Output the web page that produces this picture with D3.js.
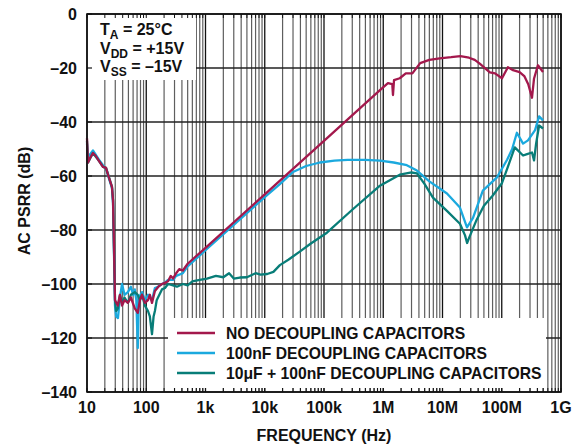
<!DOCTYPE html>
<html>
<head>
<meta charset="utf-8">
<script src="https://cdn.jsdelivr.net/npm/d3@7"></script>
<style>
  body { margin: 0; background: #fff; }
  text { font-family: "Liberation Sans", Arial, sans-serif; font-weight: bold; fill: #111; }
</style>
</head>
<body>
<div id="chart"></div>
<script>
// frequency (Hz), PSRR (dB)
const noDecoupling = [
  [10,-46],[10.4,-55],[11.5,-53],[12.6,-51.5],[14,-52.5],[16,-54.5],[18.6,-56.6],[20.9,-57],
  [23,-60],[26.4,-64],[27.5,-69],[28.5,-85],[29.7,-106],[33,-108],[36,-104],[39,-108],
  [43,-106],[49,-107],[55,-105],[64,-109],[72,-110.7],[78,-106],[85,-104],[95,-107],
  [107,-106],[115,-104],[125,-107],[140,-102.6],[160,-101],[184,-100],[210,-99.5],
  [233,-99],[260,-97],[283,-98],[320,-96],[360,-94.5],[415,-95],[500,-92.5],[1000,-86.6],
  [10000,-66.8],[100000,-47],[880e3,-28.2],[1.2e6,-25.6],[1.42e6,-26],[1.46e6,-30],
  [1.52e6,-24.5],[1.9e6,-23.8],[2.4e6,-22],[3.1e6,-22],[4.2e6,-18.2],[6e6,-17],[9e6,-16.4],
  [14e6,-16],[20e6,-15.6],[28e6,-16.2],[35e6,-17],[43e6,-18.5],[55e6,-20.5],[63e6,-21.6],
  [77e6,-22],[101e6,-23.8],[127e6,-19.7],[155e6,-20.8],[200e6,-21.5],[240e6,-23],
  [280e6,-26],[324e6,-31],[350e6,-24],[408e6,-19],[497e6,-21.5]
];
const cap100n = [
  [10,-48],[10.4,-53],[12.6,-50.5],[16,-54],[18.6,-56],[21,-57.5],[26.4,-64.5],[27.5,-70],
  [28.5,-88],[29.7,-108],[31,-112],[33.3,-112.6],[36,-105],[39,-100],[43,-104],[49,-103],
  [55,-101],[60,-104],[64,-102],[68,-106],[72,-123.7],[75,-105],[85,-103],[95,-106],
  [107,-104],[125,-106],[140,-101.5],[158,-101],[184,-100],[207,-99.5],[233,-98.5],
  [283,-98.5],[320,-97],[415,-96],[500,-93.5],[1000,-87.5],[10000,-67.8],[18000,-63],
  [30000,-58.5],[50000,-56.3],[85000,-55],[150e3,-54.3],[250e3,-54],[500e3,-54],
  [880e3,-54.3],[1.5e6,-55],[2.5e6,-56],[3.7e6,-58],[6e6,-62],[11.9e6,-66.5],
  [19.7e6,-71.7],[25.9e6,-79],[32.7e6,-75.5],[48e6,-65.4],[83e6,-60.5],[123e6,-54],
  [150e6,-50],[180e6,-44],[229e6,-48],[277e6,-46.8],[365e6,-43],[427e6,-37.9],[497e6,-39.4]
];
const cap10u100n = [
  [10,-47],[10.4,-55],[12.6,-51.5],[16,-54.5],[18.6,-56.6],[21,-57],[26.4,-64],[27.5,-69],
  [28.5,-86],[29.7,-106],[31,-110],[33.3,-109],[36,-104],[39,-107],[43,-105],[49,-107],
  [55,-104],[64,-103],[72,-104],[78,-106],[85,-104],[95,-108],[107,-110],[115,-112],
  [125,-118.6],[133,-112],[140,-110],[150,-106],[158,-105],[184,-102],[207,-101.5],
  [233,-100],[283,-100.5],[330,-101],[415,-100],[500,-100.5],[600,-99],[800,-98.5],
  [1060,-98],[1500,-97],[2000,-97.5],[2500,-96],[3000,-98],[3800,-97.6],[5000,-97.5],
  [7000,-96],[8500,-96.5],[11000,-96.3],[14000,-95.5],[18000,-93],[25000,-91],[39000,-88],
  [60000,-85],[112e3,-81],[300e3,-72.5],[880e3,-63.6],[1.9e6,-59.5],[3e6,-58.7],
  [3.7e6,-59],[5e6,-63],[6.9e6,-68],[12e6,-73],[19.7e6,-77.7],[24e6,-82],[26e6,-84.8],
  [28e6,-83],[37e6,-76.6],[50e6,-71],[70e6,-67.3],[100e6,-62.8],[125e6,-57],[166e6,-49.4],
  [229e6,-52.4],[260e6,-52],[324e6,-51.3],[351e6,-54.2],[380e6,-48],[427e6,-41.3],[497e6,-42.4]
];

const yTicks = [0, -20, -40, -60, -80, -100, -120, -140];
const xTicks = [10, 100, 1e3, 1e4, 1e5, 1e6, 1e7, 1e8, 1e9];
const xTickLabels = ["10", "100", "1k", "10k", "100k", "1M", "10M", "100M", "1G"];
const legendLabels = ["NO DECOUPLING CAPACITORS", "100nF DECOUPLING CAPACITORS", "10μF + 100nF DECOUPLING CAPACITORS"];
const colors = ["#a3184c", "#1ba9de", "#087d78"];

// layout
const W = 577, H = 448;
const margin = {top: 14, right: 16, bottom: 56, left: 87};
const width = W - margin.left - margin.right;
const height = H - margin.top - margin.bottom;
const fs = "16px";

const svg = d3.select("#chart").append("svg")
    .attr("width", W)
    .attr("height", H);

const g = svg.append("g")
    .attr("transform", `translate(${margin.left},${margin.top})`);

const x = d3.scaleLog().domain([10, 1e9]).range([0, width]);
const y = d3.scaleLinear().domain([-140, 0]).range([height, 0]);

// all log gridline positions
let minorVals = [];
for (let d = 10; d < 1e9; d *= 10) {
    for (let k = 2; k <= 9; k++) minorVals.push(k * d);
}

// minor vertical grid
g.append("g").selectAll("line")
    .data(minorVals)
    .join("line")
    .attr("x1", d => x(d)).attr("x2", d => x(d))
    .attr("y1", 0).attr("y2", height)
    .attr("stroke", "#5e5e5e")
    .attr("stroke-width", 1.2);

// major vertical grid
g.append("g").selectAll("line")
    .data(xTicks)
    .join("line")
    .attr("x1", d => x(d)).attr("x2", d => x(d))
    .attr("y1", 0).attr("y2", height)
    .attr("stroke", "#111")
    .attr("stroke-width", 1.3);

// horizontal grid
g.append("g").selectAll("line")
    .data(yTicks)
    .join("line")
    .attr("x1", 0).attr("x2", width)
    .attr("y1", d => y(d)).attr("y2", d => y(d))
    .attr("stroke", "#222")
    .attr("stroke-width", 1.3);

// white box behind the conditions text
g.append("rect")
    .attr("x", 1).attr("y", 1)
    .attr("width", 108).attr("height", 65)
    .attr("fill", "#fff");

// curves
const line = d3.line()
    .x(d => x(d[0]))
    .y(d => y(d[1]));

const series = [cap100n, cap10u100n, noDecoupling];
const seriesColors = [colors[1], colors[2], colors[0]];
g.append("g").selectAll("path")
    .data(series)
    .join("path")
    .attr("d", line)
    .attr("fill", "none")
    .attr("stroke", (d, i) => seriesColors[i])
    .attr("stroke-width", 2.3)
    .attr("stroke-linejoin", "round");

// legend box
const legend = g.append("g");
legend.append("rect")
    .attr("x", 81).attr("y", 304)
    .attr("width", 378).attr("height", 70)
    .attr("fill", "#fff");

legend.selectAll("line")
    .data(legendLabels)
    .join("line")
    .attr("x1", 90).attr("x2", 128)
    .attr("y1", (d, i) => 319 + i * 20)
    .attr("y2", (d, i) => 319 + i * 20)
    .attr("stroke", (d, i) => colors[i])
    .attr("stroke-width", 2.5);

legend.selectAll("text")
    .data(legendLabels)
    .join("text")
    .attr("x", 139)
    .attr("y", (d, i) => 325 + i * 20)
    .style("font-size", "15.7px")
    .text(d => d);

// inward ticks on top and bottom edges
const allX = minorVals.concat(xTicks);
g.append("g").selectAll("line")
    .data(allX)
    .join("line")
    .attr("x1", d => x(d)).attr("x2", d => x(d))
    .attr("y1", 0).attr("y2", 4)
    .attr("stroke", "#111");
g.append("g").selectAll("line")
    .data(allX)
    .join("line")
    .attr("x1", d => x(d)).attr("x2", d => x(d))
    .attr("y1", height - 4).attr("y2", height)
    .attr("stroke", "#111");
g.append("g").selectAll("line")
    .data(yTicks)
    .join("line")
    .attr("x1", 0).attr("x2", 5)
    .attr("y1", d => y(d)).attr("y2", d => y(d))
    .attr("stroke", "#111")
    .attr("stroke-width", 1.2);

// frame
g.append("rect")
    .attr("width", width).attr("height", height)
    .attr("fill", "none")
    .attr("stroke", "#111")
    .attr("stroke-width", 1.6);

// conditions text
const condLines = [["T", "A", " = 25°C"], ["V", "DD", " = +15V"], ["V", "SS", " = –15V"]];
condLines.forEach((c, i) => {
    const t = g.append("text")
        .attr("x", 13)
        .attr("y", 21 + i * 18.5)
        .style("font-size", fs);
    t.append("tspan").text(c[0]);
    t.append("tspan").attr("dy", 4).style("font-size", "12px").text(c[1]);
    t.append("tspan").attr("dy", -4).text(c[2]);
});

// y tick labels
g.append("g").selectAll("text")
    .data(yTicks)
    .join("text")
    .attr("x", -10)
    .attr("y", d => y(d) + 5.5)
    .attr("text-anchor", "end")
    .style("font-size", fs)
    .text(d => d === 0 ? "0" : "–" + Math.abs(d));

// x tick labels
g.append("g").selectAll("text")
    .data(xTicks)
    .join("text")
    .attr("x", d => x(d))
    .attr("y", height + 21)
    .attr("text-anchor", "middle")
    .style("font-size", fs)
    .text((d, i) => xTickLabels[i]);

// axis titles
svg.append("text")
    .attr("x", margin.left + x(1e5))
    .attr("y", 441)
    .attr("text-anchor", "middle")
    .style("font-size", fs)
    .text("FREQUENCY (Hz)");

svg.append("text")
    .attr("transform", "translate(30,201) rotate(-90)")
    .attr("text-anchor", "middle")
    .style("font-size", fs)
    .text("AC PSRR (dB)");
</script>
</body>
</html>
